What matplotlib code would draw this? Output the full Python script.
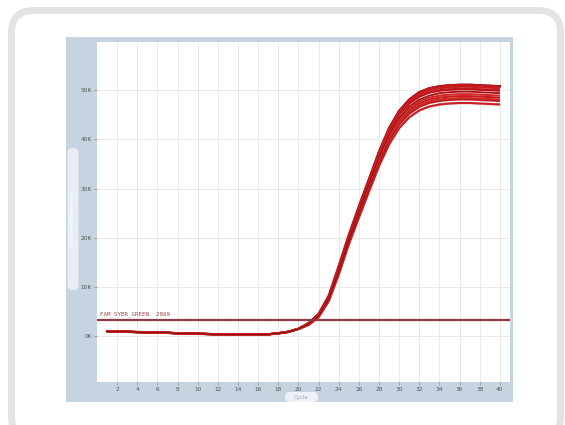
import matplotlib
matplotlib.use("Agg")
import matplotlib.pyplot as plt
from matplotlib.patches import FancyBboxPatch, Rectangle

# ---- data (RFU in thousands) ----
cycles = list(range(1, 41))
baseline = [1.0, 0.95, 0.9, 0.85, 0.8, 0.75, 0.7, 0.6, 0.55, 0.5,
            0.45, 0.4, 0.4, 0.35, 0.35, 0.35, 0.4, 0.6, 0.9, 1.5]
well_a = [2.6, 4.4, 7.9, 13.7, 20.2, 26.1, 31.8, 37.5, 42.3, 45.8, 48.1, 49.6, 50.4, 50.8, 51.0, 51.1, 51.1, 51.0, 50.9, 50.8]
well_b = [2.5, 4.3, 7.7, 13.4, 19.9, 25.7, 31.4, 36.9, 41.6, 45.1, 47.4, 48.8, 49.6, 50.0, 50.2, 50.3, 50.3, 50.2, 50.1, 50.0]
well_c = [2.5, 4.2, 7.6, 13.2, 19.6, 25.3, 30.9, 36.4, 41.0, 44.4, 46.7, 48.1, 48.9, 49.4, 49.6, 49.7, 49.7, 49.6, 49.5, 49.4]
well_d = [2.4, 4.1, 7.5, 13.0, 19.3, 24.9, 30.4, 35.8, 40.3, 43.7, 45.9, 47.3, 48.1, 48.5, 48.7, 48.8, 48.8, 48.7, 48.6, 48.5]
well_e = [2.4, 4.0, 7.4, 12.8, 19.0, 24.5, 29.9, 35.2, 39.7, 43.0, 45.2, 46.6, 47.4, 47.8, 48.0, 48.1, 48.1, 48.0, 47.9, 47.8]
well_f = [2.3, 3.9, 7.2, 12.6, 18.7, 24.1, 29.4, 34.6, 39.0, 42.3, 44.5, 45.9, 46.7, 47.1, 47.3, 47.4, 47.4, 47.3, 47.2, 47.1]
well_g = [2.7, 4.6, 8.3, 14.4, 20.7, 26.5, 32.0, 37.3, 41.8, 45.1, 47.3, 48.7, 49.5, 49.9, 50.1, 50.2, 50.2, 50.1, 50.0, 49.9]
well_h = [2.3, 3.9, 7.1, 12.6, 18.9, 24.7, 30.3, 35.8, 40.5, 44.0, 46.3, 47.7, 48.5, 48.9, 49.1, 49.2, 49.2, 49.1, 49.0, 48.9]
well_i = [2.6, 4.3, 7.8, 13.5, 20.0, 25.9, 31.6, 37.2, 41.9, 45.4, 47.7, 49.2, 50.0, 50.4, 50.6, 50.7, 50.7, 50.6, 50.5, 50.4]
well_j = [2.4, 4.1, 7.4, 12.9, 19.1, 24.7, 30.1, 35.5, 40.0, 43.3, 45.5, 46.9, 47.7, 48.1, 48.3, 48.4, 48.4, 48.3, 48.2, 48.1]
wells = [well_a, well_b, well_c, well_d, well_e, well_f, well_g, well_h, well_i, well_j]
threshold = 3.4
threshold_label = "FAM_SYBR_GREEN  2869"
x_ticks = list(range(2, 41, 2))
y_ticks = [0, 10, 20, 30, 40, 50]
y_tick_labels = ["0K", "10K", "20K", "30K", "40K", "50K"]

W, H = 565, 425
fig = plt.figure(figsize=(W / 100, H / 100), dpi=100)

# background (pixel coordinates)
bg = fig.add_axes([0, 0, 1, 1])
bg.set_xlim(0, W)
bg.set_ylim(H, 0)
bg.axis("off")
bg.add_patch(FancyBboxPatch((11.5, 10.5), 549, 428,
                            boxstyle="round,pad=0,rounding_size=22",
                            fc="white", ec="#e3e3e3", lw=5))
bg.add_patch(Rectangle((66, 37), 447, 365, fc="#c6d4e2", ec="none"))
bg.add_patch(FancyBboxPatch((67.5, 148), 11, 142,
                            boxstyle="round,pad=0,rounding_size=5",
                            fc="#e8eef4", ec="none"))
bg.text(73, 219, "Relative Fluorescence", rotation=90, ha="center", va="center",
        fontsize=3.6, color="white")
bg.add_patch(FancyBboxPatch((285, 392), 33, 10,
                            boxstyle="round,pad=0,rounding_size=5",
                            fc="#eef2f6", ec="none"))
bg.text(301.5, 397.5, "Cycle", ha="center", va="center", fontsize=4, color="#9aa6b4")

# main plot
ax = fig.add_axes([97 / W, 1 - 382 / H, 413 / W, 340 / H])
ax.set_facecolor("white")
ax.set_xlim(0, 41)
ax.set_ylim(-9.3, 59.8)
for s in ax.spines.values():
    s.set_visible(False)

ax.set_xticks(x_ticks)
ax.set_xticklabels([str(t) for t in x_ticks], fontsize=4.2, color="#555555")
ax.set_yticks(y_ticks)
ax.set_yticklabels(y_tick_labels, fontsize=4.2, color="#555555")
ax.tick_params(axis="both", length=2, width=0.5, color="#888888", pad=1.5)
ax.grid(True, color="#e9e9e9", lw=0.7)
ax.set_axisbelow(True)

reds = ["#c0161c", "#cc1e22", "#d42a2a", "#c81c20", "#d63430",
        "#c42025", "#b8141a", "#cf2a2a", "#c91a1e", "#d02624"]
# thin dark / pale outlines at the band edges
ax.plot(cycles, baseline + well_a, color="#6a1414", lw=1.7, zorder=3)
ax.plot(cycles, baseline + well_f, color="#f2c8c8", lw=2.0, zorder=2.5)
for i, w in enumerate(wells):
    y = baseline + w
    ax.plot(cycles, y, color=reds[i], lw=1.5, zorder=4, solid_capstyle="butt")
ax.plot(cycles, baseline + well_c, color="#4a0a0a", lw=0.35, zorder=5)
ax.plot(cycles, baseline + well_e, color="#7a1010", lw=0.35, zorder=5)

ax.axhline(threshold, color="#8c3c48", lw=1.6, zorder=6)
ax.text(0.3, threshold + 0.6, threshold_label, fontsize=4.2, family="DejaVu Sans Mono",
        color="#a04848", va="bottom", ha="left", zorder=7)

fig.savefig("out.png", dpi=100)
